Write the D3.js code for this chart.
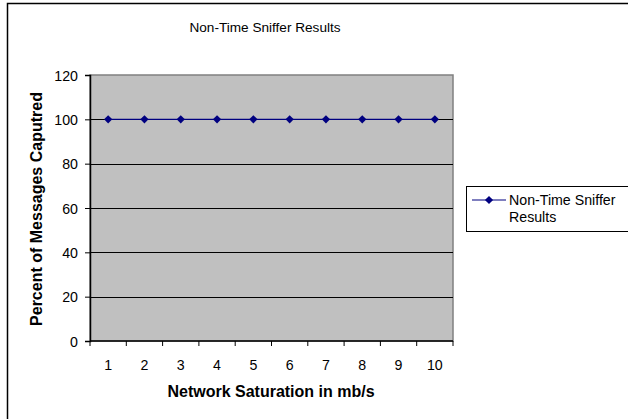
<!DOCTYPE html>
<html>
<head>
<meta charset="utf-8">
<script src="https://cdn.jsdelivr.net/npm/d3@7"></script>
<style>
  html, body { margin: 0; padding: 0; background: #fff; }
  svg { display: block; font-family: Arial, "Liberation Sans", sans-serif; }
</style>
</head>
<body>
<svg id="chart" width="628" height="419"></svg>
<script>
// Sniffer capture rate per network saturation level
const saturation = ["1", "2", "3", "4", "5", "6", "7", "8", "9", "10"];
const percentCaptured = [100, 100, 100, 100, 100, 100, 100, 100, 100, 100];
const yTicks = [0, 20, 40, 60, 80, 100, 120];
const legendLines = ["Non-Time Sniffer", "Results"];

const svg = d3.select("#chart");
const plot = { left: 90, top: 75, right: 453, bottom: 341 };
const FONT = "Arial, 'Liberation Sans', sans-serif";

// outer chart frame
svg.append("rect")
  .attr("x", 7.5).attr("y", 3.5)
  .attr("width", 700).attr("height", 500)
  .attr("fill", "#fff").attr("stroke", "#000").attr("stroke-width", 1.5);

const x = d3.scaleBand().domain(saturation).range([plot.left, plot.right]);
const y = d3.scaleLinear().domain([0, 120]).range([plot.bottom, plot.top]);

// plot area background
svg.append("rect")
  .attr("x", plot.left).attr("y", plot.top)
  .attr("width", plot.right - plot.left).attr("height", plot.bottom - plot.top)
  .attr("fill", "#c0c0c0").attr("stroke", "#808080").attr("stroke-width", 1.5);

// horizontal gridlines
svg.append("g").selectAll("line")
  .data(yTicks.filter(d => d > 0 && d < 120))
  .join("line")
  .attr("x1", plot.left).attr("x2", plot.right)
  .attr("y1", d => Math.round(y(d)) + 0.5).attr("y2", d => Math.round(y(d)) + 0.5)
  .attr("stroke", "#000").attr("stroke-width", 1);

// y axis
const yAxis = svg.append("g")
  .attr("transform", `translate(${plot.left},0)`)
  .call(d3.axisLeft(y).tickValues(yTicks).tickSize(5).tickPadding(7));
yAxis.selectAll("text").attr("font-size", 14.2).attr("fill", "#000")
  .attr("font-family", FONT).attr("dy", "0.36em");
yAxis.selectAll("line").attr("stroke", "#000");
yAxis.select(".domain").attr("stroke", "#000").attr("stroke-width", 1.5);

// x axis: ticks between categories, labels centred in each band
const xAxis = svg.append("g").attr("transform", `translate(0,${plot.bottom})`);
xAxis.append("line")
  .attr("x1", plot.left).attr("x2", plot.right)
  .attr("y1", 0).attr("y2", 0)
  .attr("stroke", "#000").attr("stroke-width", 1.5);
const edges = saturation.map(d => x(d)).concat([x(saturation[saturation.length - 1]) + x.bandwidth()]);
xAxis.selectAll("line.tick").data(edges).join("line")
  .attr("class", "tick")
  .attr("x1", d => d).attr("x2", d => d)
  .attr("y1", 0).attr("y2", 5)
  .attr("stroke", "#000");
xAxis.selectAll("text").data(saturation).join("text")
  .attr("x", d => x(d) + x.bandwidth() / 2)
  .attr("y", 29)
  .attr("text-anchor", "middle")
  .attr("font-size", 14.2)
  .text(d => d);

// series line and square-diamond markers
const line = d3.line()
  .x((d, i) => x(saturation[i]) + x.bandwidth() / 2)
  .y(d => y(d));
svg.append("path")
  .datum(percentCaptured)
  .attr("d", line)
  .attr("fill", "none")
  .attr("stroke", "#000080")
  .attr("stroke-width", 1.2);
const marker = d3.symbol().type(d3.symbolSquare).size(34);
svg.append("g").selectAll("path")
  .data(percentCaptured)
  .join("path")
  .attr("d", marker)
  .attr("transform", (d, i) => `translate(${x(saturation[i]) + x.bandwidth() / 2},${y(d)}) rotate(45)`)
  .attr("fill", "#000080");

// titles
svg.append("text")
  .attr("x", 265).attr("y", 32)
  .attr("text-anchor", "middle")
  .attr("font-size", 13.6)
  .text("Non-Time Sniffer Results");
svg.append("text")
  .attr("x", 271).attr("y", 397)
  .attr("text-anchor", "middle")
  .attr("font-size", 16).attr("font-weight", "bold")
  .text("Network Saturation in mb/s");
svg.append("text")
  .attr("transform", "translate(42,209) rotate(-90)")
  .attr("text-anchor", "middle")
  .attr("font-size", 16).attr("font-weight", "bold")
  .text("Percent of Messages Caputred");

// legend
const legend = svg.append("g").attr("transform", "translate(466,186)");
legend.append("rect")
  .attr("x", 0.5).attr("y", 0.5)
  .attr("width", 200).attr("height", 45)
  .attr("fill", "#fff").attr("stroke", "#000").attr("stroke-width", 1);
legend.append("line")
  .attr("x1", 6).attr("x2", 40).attr("y1", 14).attr("y2", 14)
  .attr("stroke", "#000080").attr("stroke-width", 1.2);
legend.append("path")
  .attr("d", marker)
  .attr("transform", "translate(23,14) rotate(45)")
  .attr("fill", "#000080");
legend.selectAll("text.lbl").data(legendLines).join("text")
  .attr("class", "lbl")
  .attr("x", 43)
  .attr("y", (d, i) => 19 + i * 17)
  .attr("font-size", 14.2)
  .text(d => d);
</script>
</body>
</html>
